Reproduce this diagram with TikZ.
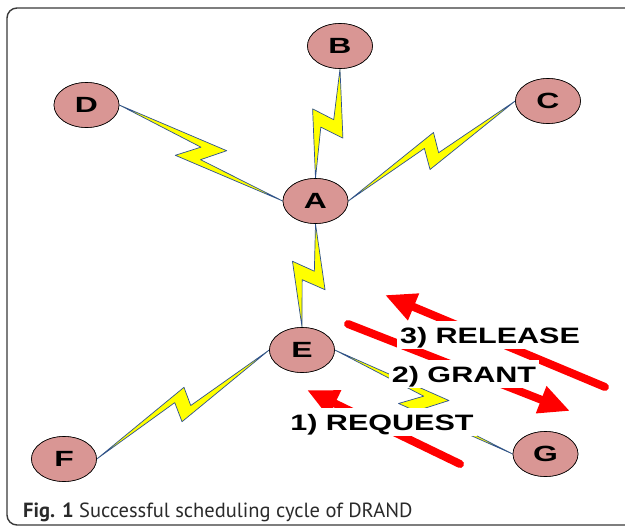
\documentclass[tikz,border=0pt]{standalone}
\usepackage{fontspec}
\usetikzlibrary{calc,arrows.meta,shapes.geometric}

\newfontfamily\nodefont{Liberation Sans}[FakeStretch=1.45]
\newfontfamily\lblfont{Liberation Sans}[FakeStretch=1.37]
\newfontfamily\capfont{PT Sans}

\definecolor{nodefill}{HTML}{D99694}
\definecolor{boltline}{HTML}{2F528F}
\definecolor{boltfill}{HTML}{FFFF00}
\definecolor{framegray}{HTML}{3A3A3A}
\definecolor{capgray}{HTML}{2A2A2A}

\tikzset{
  station/.style={ellipse, draw=black, line width=0.6pt, fill=nodefill,
    minimum width=65pt, minimum height=45pt, inner sep=0pt,
    font=\nodefont\bfseries\fontsize{22}{22}\selectfont},
  boltshape/.style={fill=boltfill, draw=boltline, line width=0.7pt, line join=round},
  msgarrow/.style={draw=red, line width=8pt, line cap=round,
    -{Triangle[length=31pt,width=27pt]}},
  msglabel/.style={fill=white, anchor=base, inner xsep=3pt, inner ysep=0pt,
    text height=22.5pt, text depth=5.5pt,
    font=\lblfont\bfseries\fontsize{22.3}{24}\selectfont},
}

% Lightning-bolt link between two anchors:
% #1 start, #2 end, #3 half spread of the zigzag, #4 zigzag amplitude, #5 notch offset
\newcommand\bolt[5]{%
  \path let \p1=(#1), \p2=(#2) in
    \pgfextra{%
      \pgfmathsetmacro\boltang{atan2(\y2-\y1,\x2-\x1)}%
      \pgfmathsetmacro\boltlen{veclen(\x2-\x1,\y2-\y1)}%
      \global\let\boltang\boltang
      \global\let\boltlen\boltlen};
  \pgfmathsetmacro\boltmid{\boltlen/2}%
  \begin{scope}[shift={(#1)}, rotate=\boltang]
    \path[boltshape] (0,0) -- (\boltmid+#3,-#4) -- (\boltmid+#5,6)
      -- (\boltlen,0) -- (\boltmid-#3,#4) -- (\boltmid-#5,-5) -- cycle;
  \end{scope}}

\begin{document}
\begin{tikzpicture}[x=1pt, y=-1pt]
  \useasboundingbox (0,0) rectangle (625,528);
  \clip (0,0) rectangle (625,528);
  \fill[white] (0,0) rectangle (625,528);

  % outer frame
  \draw[framegray, line width=1.4pt, rounded corners=10pt] (7,8) rectangle (650,525);

  % stations (placed first so the links can use their anchors)
  \path
    (315.5,201) node[station] (A) {}
    (340,46)    node[station] (B) {}
    (548,101)   node[station] (C) {}
    (86.5,105)  node[station] (D) {}
    (302,350)   node[station] (E) {}
    (64,459)    node[station] (F) {}
    (545.5,454) node[station] (G) {};

  % wireless links
  \bolt{D.east}{A.west}{21}{15}{3}
  \bolt{B.south}{A.north}{11}{18}{5}
  \bolt{C.west}{A.east}{11}{15}{5}
  \bolt{A.south}{E.north}{12}{18}{5}
  \bolt{E.west}{F.east}{10}{14}{6}
  \bolt{E.east}{G.west}{21}{14}{3}

  % stations drawn on top of the link ends
  \node[station] at (A) {A};
  \node[station] at (B) {B};
  \node[station] at (C) {C};
  \node[station] at (D) {D};
  \node[station] at (E) {E};
  \node[station] at (F) {F};
  \node[station] at (G) {G};

  % message arrows
  \coordinate (relTail) at (605,387);
  \coordinate (relTip)  at (385,295);
  \coordinate (grTail)  at (348,324);
  \coordinate (grTip)   at (570,411);
  \coordinate (rqTail)  at (460,464);
  \coordinate (rqTip)   at (307,390);
  \draw[msgarrow] (relTail) -- (relTip);
  \draw[msgarrow] (grTail) -- (grTip);
  \draw[msgarrow] (rqTail) -- (rqTip);

  % message labels
  \node[msglabel] (relLbl) at (490,343) {3) RELEASE};
  \node[msglabel] (grLbl)  at (464,382) {2) GRANT};
  \node[msglabel] (rqLbl)  at (382,430) {1) REQUEST};

  % caption
  \node[anchor=base west, inner sep=0pt, text=capgray,
        font=\capfont\fontsize{20.5}{22}\selectfont] (cap) at (23,517)
    {\textbf{Fig. 1} Successful scheduling cycle of DRAND};
\end{tikzpicture}
\end{document}
